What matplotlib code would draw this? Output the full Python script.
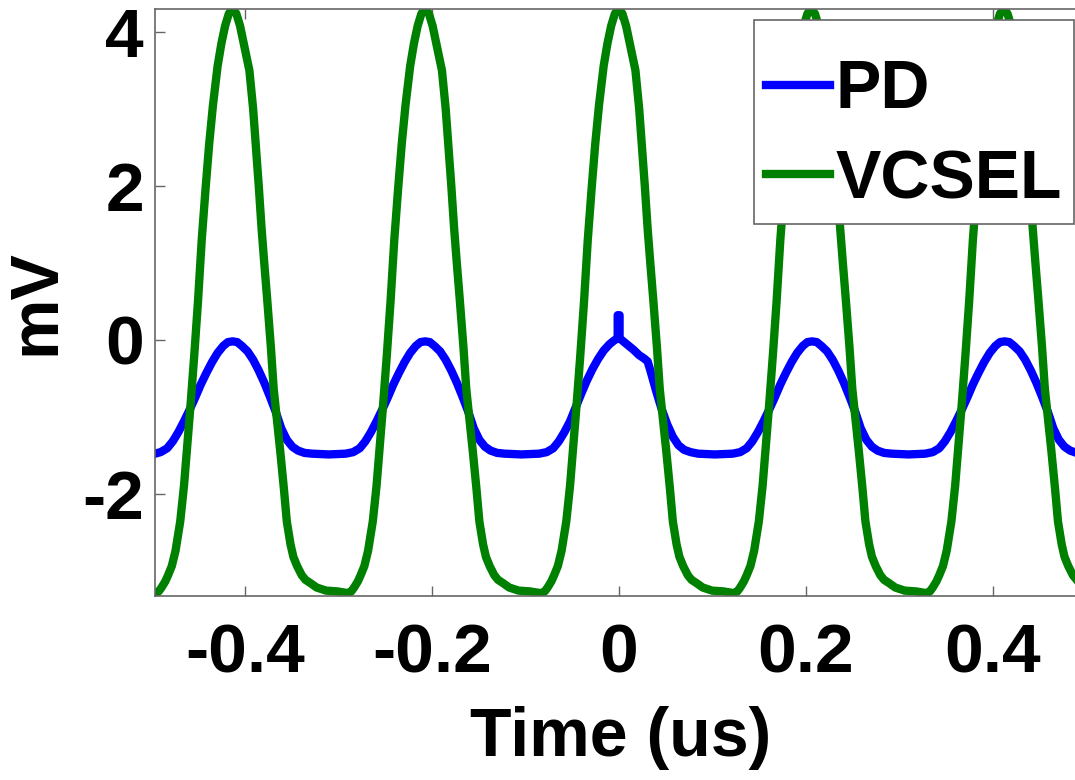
import numpy as np
import matplotlib
matplotlib.use("Agg")
import matplotlib.pyplot as plt

# valores: tempo em us, tensao em mV

# PD, um trecho por pulso
t_pd1 = [-0.496, -0.490, -0.483, -0.477, -0.471, -0.465, -0.459, -0.453, -0.447, -0.441,
         -0.435, -0.429, -0.423, -0.418, -0.413, -0.408, -0.403, -0.397, -0.391, -0.385,
         -0.379, -0.373, -0.367, -0.361, -0.355, -0.349, -0.343, -0.336, -0.328, -0.310]
v_pd1 = [-1.48, -1.46, -1.41, -1.32, -1.20, -1.06, -0.91, -0.75, -0.58, -0.43,
         -0.29, -0.17, -0.08, -0.03, -0.02, -0.03, -0.08, -0.15, -0.26, -0.40,
         -0.56, -0.74, -0.93, -1.15, -1.30, -1.39, -1.44, -1.47, -1.48, -1.49]
t_pd2 = [-0.292, -0.284, -0.277, -0.271, -0.265, -0.259, -0.253, -0.247, -0.241, -0.235,
         -0.229, -0.223, -0.217, -0.212, -0.207, -0.202, -0.197, -0.191, -0.185, -0.179,
         -0.173, -0.167, -0.161, -0.155, -0.149, -0.143, -0.137, -0.130, -0.122, -0.104]
v_pd2 = [-1.48, -1.46, -1.41, -1.32, -1.20, -1.06, -0.91, -0.75, -0.58, -0.43,
         -0.29, -0.17, -0.08, -0.03, -0.02, -0.03, -0.08, -0.15, -0.26, -0.40,
         -0.56, -0.74, -0.93, -1.15, -1.30, -1.39, -1.44, -1.47, -1.48, -1.49]
t_pd3 = [-0.085, -0.077, -0.070, -0.064, -0.058, -0.052, -0.046, -0.040, -0.034, -0.028,
         -0.022, -0.016, -0.010, -0.005, -0.001, -0.001, 0.001, 0.001, 0.005, 0.010,
         0.016, 0.022, 0.027, 0.031, 0.034, 0.040, 0.046, 0.052, 0.058, 0.064,
         0.070, 0.077, 0.085, 0.103]
v_pd3 = [-1.48, -1.46, -1.41, -1.32, -1.20, -1.06, -0.88, -0.70, -0.53, -0.38,
         -0.25, -0.14, -0.06, -0.01, 0.02, 0.32, 0.32, 0.02, -0.02, -0.07,
         -0.13, -0.20, -0.24, -0.28, -0.40, -0.66, -0.90, -1.10, -1.26, -1.37,
         -1.43, -1.46, -1.48, -1.49]
t_pd4 = [0.122, 0.130, 0.137, 0.143, 0.149, 0.155, 0.161, 0.167, 0.173, 0.179,
         0.185, 0.191, 0.197, 0.202, 0.207, 0.212, 0.217, 0.223, 0.229, 0.235,
         0.241, 0.247, 0.253, 0.259, 0.265, 0.271, 0.277, 0.284, 0.292, 0.310]
v_pd4 = [-1.48, -1.46, -1.41, -1.32, -1.20, -1.06, -0.91, -0.75, -0.58, -0.43,
         -0.29, -0.17, -0.08, -0.03, -0.02, -0.03, -0.08, -0.15, -0.26, -0.40,
         -0.56, -0.74, -0.93, -1.15, -1.30, -1.39, -1.44, -1.47, -1.48, -1.49]
t_pd5 = [0.328, 0.336, 0.343, 0.349, 0.355, 0.361, 0.367, 0.373, 0.379, 0.385,
         0.391, 0.397, 0.403, 0.408, 0.413, 0.418, 0.423, 0.429, 0.435, 0.441,
         0.447, 0.453, 0.459, 0.465, 0.471, 0.477, 0.483, 0.490, 0.500]
v_pd5 = [-1.48, -1.46, -1.41, -1.32, -1.20, -1.06, -0.91, -0.75, -0.58, -0.43,
         -0.29, -0.17, -0.08, -0.03, -0.02, -0.03, -0.08, -0.15, -0.26, -0.40,
         -0.56, -0.74, -0.93, -1.15, -1.30, -1.39, -1.44, -1.47, -1.48]

# VCSEL, um trecho por pulso
t_vc1 = [-0.496, -0.495, -0.492, -0.489, -0.485, -0.482, -0.478, -0.474, -0.469, -0.465, -0.462,
         -0.458, -0.454, -0.450, -0.446, -0.442, -0.438, -0.434, -0.429, -0.425, -0.421,
         -0.417, -0.413, -0.409, -0.405, -0.401, -0.395, -0.391, -0.388, -0.385, -0.382,
         -0.379, -0.376, -0.372, -0.369, -0.365, -0.362, -0.358, -0.355, -0.351, -0.348,
         -0.344, -0.339, -0.335, -0.330, -0.323, -0.313, -0.301, -0.291]
v_vc1 = [-3.29, -3.29, -3.27, -3.22, -3.14, -3.06, -2.94, -2.74, -2.36, -1.90, -1.45,
         -0.85, -0.20, 0.50, 1.30, 1.95, 2.55, 3.05, 3.56, 3.85, 4.08,
         4.24, 4.30, 4.24, 4.08, 3.85, 3.50, 3.00, 2.50, 2.00, 1.45,
         0.98, 0.53, -0.10, -0.64, -1.10, -1.45, -1.95, -2.36, -2.66, -2.82,
         -2.94, -3.06, -3.12, -3.16, -3.22, -3.26, -3.27, -3.29]
t_vc2 = [-0.289, -0.286, -0.283, -0.279, -0.276, -0.272, -0.268, -0.263, -0.259, -0.256,
         -0.252, -0.248, -0.244, -0.240, -0.236, -0.232, -0.228, -0.223, -0.219, -0.215,
         -0.211, -0.207, -0.203, -0.199, -0.195, -0.189, -0.185, -0.182, -0.179, -0.176,
         -0.173, -0.170, -0.166, -0.163, -0.159, -0.156, -0.152, -0.149, -0.145, -0.142,
         -0.138, -0.133, -0.129, -0.124, -0.117, -0.107, -0.095, -0.085]
v_vc2 = [-3.29, -3.27, -3.22, -3.14, -3.06, -2.94, -2.74, -2.36, -1.90, -1.45,
         -0.85, -0.20, 0.50, 1.30, 1.95, 2.55, 3.05, 3.56, 3.85, 4.08,
         4.24, 4.30, 4.24, 4.08, 3.85, 3.50, 3.00, 2.50, 2.00, 1.45,
         0.98, 0.53, -0.10, -0.64, -1.10, -1.45, -1.95, -2.36, -2.66, -2.82,
         -2.94, -3.06, -3.12, -3.16, -3.22, -3.26, -3.27, -3.29]
t_vc3 = [-0.082, -0.079, -0.076, -0.072, -0.069, -0.065, -0.061, -0.056, -0.052, -0.049,
         -0.045, -0.041, -0.037, -0.033, -0.029, -0.025, -0.021, -0.016, -0.012, -0.008,
         -0.004, 0.000, 0.004, 0.008, 0.012, 0.018, 0.022, 0.025, 0.028, 0.031,
         0.034, 0.037, 0.041, 0.044, 0.048, 0.051, 0.055, 0.058, 0.062, 0.065,
         0.069, 0.074, 0.078, 0.083, 0.090, 0.100, 0.112, 0.122]
v_vc3 = [-3.29, -3.27, -3.22, -3.14, -3.06, -2.94, -2.74, -2.36, -1.90, -1.45,
         -0.85, -0.20, 0.50, 1.30, 1.95, 2.55, 3.05, 3.56, 3.85, 4.08,
         4.24, 4.30, 4.24, 4.08, 3.85, 3.50, 3.00, 2.50, 2.00, 1.45,
         0.98, 0.53, -0.10, -0.64, -1.10, -1.45, -1.95, -2.36, -2.66, -2.82,
         -2.94, -3.06, -3.12, -3.16, -3.22, -3.26, -3.27, -3.29]
t_vc4 = [0.124, 0.127, 0.130, 0.134, 0.137, 0.141, 0.145, 0.150, 0.154, 0.157,
         0.161, 0.165, 0.169, 0.173, 0.177, 0.181, 0.185, 0.190, 0.194, 0.198,
         0.202, 0.206, 0.210, 0.214, 0.218, 0.224, 0.228, 0.231, 0.234, 0.237,
         0.240, 0.243, 0.247, 0.250, 0.254, 0.257, 0.261, 0.264, 0.268, 0.271,
         0.275, 0.280, 0.284, 0.289, 0.296, 0.306, 0.318, 0.328]
v_vc4 = [-3.29, -3.27, -3.22, -3.14, -3.06, -2.94, -2.74, -2.36, -1.90, -1.45,
         -0.85, -0.20, 0.50, 1.30, 1.95, 2.55, 3.05, 3.56, 3.85, 4.08,
         4.24, 4.30, 4.24, 4.08, 3.85, 3.50, 3.00, 2.50, 2.00, 1.45,
         0.98, 0.53, -0.10, -0.64, -1.10, -1.45, -1.95, -2.36, -2.66, -2.82,
         -2.94, -3.06, -3.12, -3.16, -3.22, -3.26, -3.27, -3.29]
t_vc5 = [0.330, 0.333, 0.336, 0.340, 0.343, 0.347, 0.351, 0.356, 0.360, 0.363,
         0.367, 0.371, 0.375, 0.379, 0.383, 0.387, 0.391, 0.396, 0.400, 0.404,
         0.408, 0.412, 0.416, 0.420, 0.424, 0.430, 0.434, 0.437, 0.440, 0.443,
         0.446, 0.449, 0.453, 0.456, 0.460, 0.463, 0.467, 0.470, 0.474, 0.477,
         0.481, 0.486, 0.490, 0.495, 0.500]
v_vc5 = [-3.29, -3.27, -3.22, -3.14, -3.06, -2.94, -2.74, -2.36, -1.90, -1.45,
         -0.85, -0.20, 0.50, 1.30, 1.95, 2.55, 3.05, 3.56, 3.85, 4.08,
         4.24, 4.30, 4.24, 4.08, 3.85, 3.50, 3.00, 2.50, 2.00, 1.45,
         0.98, 0.53, -0.10, -0.64, -1.10, -1.45, -1.95, -2.36, -2.66, -2.82,
         -2.94, -3.06, -3.12, -3.16, -3.19]

t_pd = t_pd1 + t_pd2 + t_pd3 + t_pd4 + t_pd5
v_pd = v_pd1 + v_pd2 + v_pd3 + v_pd4 + v_pd5
t_vcsel = t_vc1 + t_vc2 + t_vc3 + t_vc4 + t_vc5
v_vcsel = v_vc1 + v_vc2 + v_vc3 + v_vc4 + v_vc5

x_ticks = [-0.4, -0.2, 0, 0.2, 0.4]
x_labels = ['-0.4', '-0.2', '0', '0.2', '0.4']
y_ticks = [-2, 0, 2, 4]
y_labels = ['-2', '0', '2', '4']

plt.rcParams['font.family'] = ['Liberation Sans', 'DejaVu Sans']
plt.rcParams['font.weight'] = 'bold'
plt.rcParams['axes.unicode_minus'] = False

fig = plt.figure(figsize=(10.75, 7.8), dpi=100)
ax = fig.add_axes([155/1075, 1 - 596/780, 931/1075, 587/780])

ax.plot(t_pd, v_pd, color=(0, 0, 1), lw=6, label='PD')
ax.plot(t_vcsel, v_vcsel, color=(0, 0.5, 0), lw=6, label='VCSEL')

ax.set_xlim(-0.496, 0.5)
ax.set_ylim(-3.33, 4.30)
ax.set_xticks(x_ticks)
ax.set_xticklabels(x_labels)
ax.set_yticks(y_ticks)
ax.set_yticklabels(y_labels)
ax.tick_params(direction='in', top=True, right=True, length=7, width=1,
               color='0.4', labelsize=50)
ax.tick_params(axis='x', pad=19)
ax.tick_params(axis='y', pad=8)
for s in ax.spines.values():
    s.set_color('0.4')
    s.set_linewidth(1.2)

ax.set_xlabel('Time (us)', fontsize=49, fontweight='bold', labelpad=14)
ax.set_ylabel('mV', fontsize=49, fontweight='bold', labelpad=10)

# titulo vazio so para deixar o espaco de cima da caixa como no original
leg = ax.legend(loc='upper right', bbox_to_anchor=(1074/1075, 1 - 20/780),
                bbox_transform=fig.transFigure, fontsize=49, frameon=True,
                fancybox=False, borderaxespad=0, handlelength=0.95,
                handletextpad=0.08, labelspacing=0.38, borderpad=0.17,
                title=' ', title_fontsize=1)
leg.get_frame().set_edgecolor('0.4')
leg.get_frame().set_linewidth(1.2)
leg.get_frame().set_alpha(1)

fig.savefig('out.png', dpi=100)
